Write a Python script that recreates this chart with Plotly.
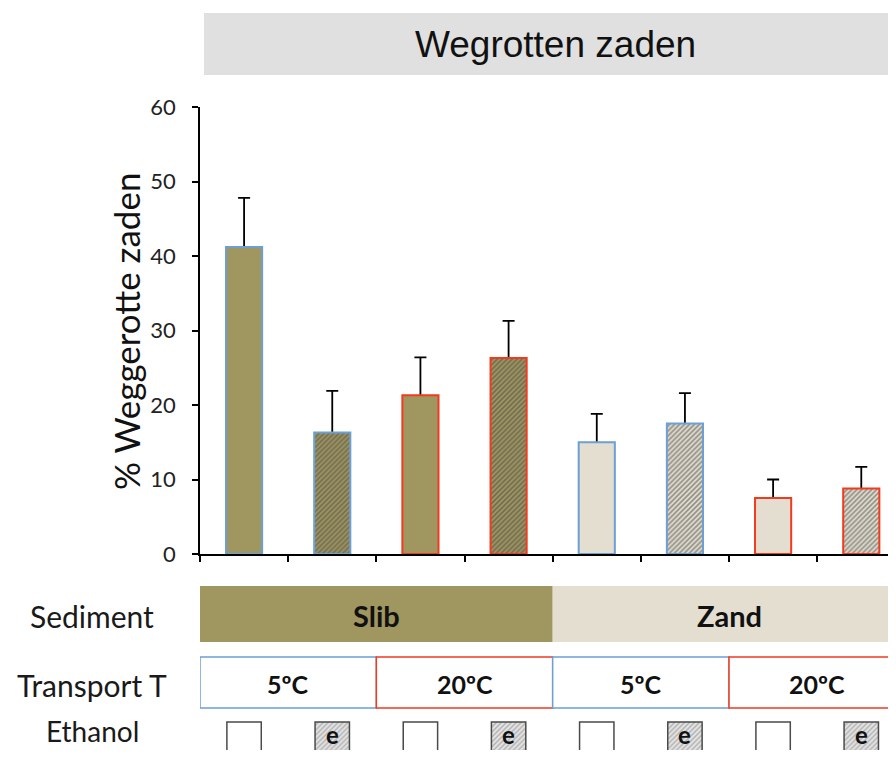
import plotly.graph_objects as go

# data
sediment = ["Slib", "Slib", "Slib", "Slib", "Zand", "Zand", "Zand", "Zand"]
transport = ["5ºC", "5ºC", "20ºC", "20ºC", "5ºC", "5ºC", "20ºC", "20ºC"]
ethanol = [False, True, False, True, False, True, False, True]
pct_rotten = [41.2, 16.3, 21.3, 26.3, 15.0, 17.5, 7.5, 8.8]
pct_err = [6.6, 5.6, 5.1, 5.0, 3.8, 4.1, 2.5, 2.9]

SED_COLOR = {"Slib": "#a09660", "Zand": "#e3decf"}
HATCH_COLOR = {"Slib": "#2e2b1c", "Zand": "#2e2e2c"}
TEMP_COLOR = {"5ºC": "#6c9fd6", "20ºC": "#f23a1f"}
LABEL_FONT = "Lato, Noto Sans, sans-serif"

# the page has an 8px body margin; keep the figure inside the 896x758 window
OFF = 8
W, H = 896 - 2 * OFF, 758 - 2 * OFF
LEFT = 200 - OFF
TOP, PLOT_BOTTOM = 107 - OFF, 554 - OFF
paper_h = H - TOP
main_dom0 = (H - PLOT_BOTTOM) / paper_h
low_dom1 = 0.29
# lower strip y axis expressed in page pixels
low_range = [H + OFF, H + OFF - low_dom1 * paper_h]


def px_x(p):
    return (p - OFF - LEFT) / (W - LEFT)


def px_y(p):
    return (H - (p - OFF)) / paper_h


x = list(range(len(pct_rotten)))
n = len(x)
bar_w = 0.41

fig = go.Figure()

# transparent bars only carrying the error bars (lower half hidden by real bars)
fig.add_trace(go.Bar(
    x=x, y=pct_rotten, width=bar_w,
    marker=dict(color="rgba(0,0,0,0)", line=dict(width=0)),
    error_y=dict(type="data", array=pct_err, color="black", thickness=1.8, width=6),
    hoverinfo="skip", showlegend=False,
))

fig.add_trace(go.Bar(
    x=x, y=pct_rotten, width=bar_w,
    marker=dict(
        color=[SED_COLOR[s] for s in sediment],
        line=dict(color=[TEMP_COLOR[t] for t in transport], width=2),
        pattern=dict(
            shape=["/" if e else "" for e in ethanol],
            fgcolor=[HATCH_COLOR[s] for s in sediment],
            bgcolor=[SED_COLOR[s] for s in sediment],
            size=3.5, solidity=0.5,
        ),
    ),
    showlegend=False,
))

# ethanol indicator squares in the lower strip
fig.add_trace(go.Bar(
    x=x, y=[40] * n, base=[722] * n, width=0.39,
    xaxis="x", yaxis="y2",
    marker=dict(
        color="white",
        line=dict(color="#4a4a4a", width=1.5),
        pattern=dict(
            shape=["/" if e else "" for e in ethanol],
            fgcolor="#7a7a7a", bgcolor="#e4e4e4", size=3.5, solidity=0.4,
        ),
    ),
    hoverinfo="skip", showlegend=False,
))

shapes = []
annotations = []

# sediment band
for grp in dict.fromkeys(sediment):
    idx = [i for i, s in enumerate(sediment) if s == grp]
    shapes.append(dict(type="rect", xref="x", yref="y2",
                       x0=min(idx) - 0.5, x1=max(idx) + 0.6 if max(idx) == n - 1 else max(idx) + 0.5,
                       y0=586, y1=642, fillcolor=SED_COLOR[grp], line=dict(width=0), layer="below"))
    annotations.append(dict(xref="x", yref="y2", x=(min(idx) + max(idx)) / 2, y=615,
                            text=f"<b>{grp}</b>", showarrow=False,
                            font=dict(family=LABEL_FONT, size=29, color="#111")))

# transport temperature boxes
runs = []
for i, t in enumerate(transport):
    if i > 0 and t == transport[i - 1] and sediment[i] == sediment[i - 1]:
        runs[-1][2] = i
    else:
        runs.append([t, i, i])
for t, a, b in runs:
    shapes.append(dict(type="rect", xref="x", yref="y2",
                       x0=a - 0.5, x1=b + 0.5 if b < n - 1 else b + 0.6,
                       y0=657, y1=708, fillcolor="white",
                       line=dict(color=TEMP_COLOR[t], width=1.5)))
    annotations.append(dict(xref="x", yref="y2", x=(a + b) / 2, y=684,
                            text=f"<b>{t}</b>", showarrow=False,
                            font=dict(family=LABEL_FONT, size=25, color="#111")))

# "e" marks, kept inside the bottom edge of the figure
for i, e in enumerate(ethanol):
    if e:
        annotations.append(dict(xref="x", yref="y2", x=i, y=734, text="<b>e</b>",
                                showarrow=False,
                                font=dict(family=LABEL_FONT, size=24, color="#111")))

# row labels
for label, ypix, size in [("Sediment", 616, 30), ("Transport T", 685, 30), ("Ethanol", 731, 28)]:
    annotations.append(dict(xref="paper", yref="y2", x=px_x(92), y=ypix,
                            text=label, showarrow=False, xanchor="center",
                            font=dict(family=LABEL_FONT, size=size, color="#1a1a1a")))

# title band
shapes.append(dict(type="rect", xref="paper", yref="paper",
                   x0=px_x(204), x1=1.02, y0=px_y(75), y1=px_y(13),
                   fillcolor="#e0e0e0", line=dict(width=0)))
annotations.append(dict(xref="paper", yref="paper", x=px_x(555), y=px_y(45),
                        text="Wegrotten zaden", showarrow=False, yanchor="middle",
                        font=dict(family="Liberation Sans, Arial, sans-serif", size=37, color="#111")))

# y axis title
annotations.append(dict(xref="paper", yref="paper", x=px_x(126), y=px_y(332),
                        text="% Weggerotte zaden", textangle=-90, showarrow=False,
                        xanchor="center", yanchor="middle",
                        font=dict(family=LABEL_FONT, size=35, color="#111")))

fig.update_layout(
    width=W, height=H,
    margin=dict(l=LEFT, r=0, t=TOP, b=0, autoexpand=False),
    barmode="overlay",
    plot_bgcolor="white", paper_bgcolor="white",
    showlegend=False,
    xaxis=dict(range=[-0.5, -0.5 + (W - LEFT) / 88.17], anchor="y",
               showline=True, linecolor="black", linewidth=1.5,
               tickvals=[i - 0.5 for i in range(n + 1)], ticks="outside", ticklen=6,
               tickcolor="black", tickwidth=1.5, showticklabels=False,
               showgrid=False, zeroline=False, fixedrange=True),
    yaxis=dict(domain=[main_dom0, 1], range=[0, 60], tickvals=list(range(0, 61, 10)),
               showline=True, linecolor="black", linewidth=1.5,
               ticks="outside", ticklen=6, tickcolor="black", tickwidth=1.5,
               ticklabelstandoff=12,
               tickfont=dict(family=LABEL_FONT, size=22, color="#222"),
               showgrid=False, zeroline=False),
    yaxis2=dict(domain=[0, low_dom1], range=low_range, anchor="x",
                visible=False, showgrid=False, zeroline=False),
    shapes=shapes,
    annotations=annotations,
)

fig.write_html("out.html")
